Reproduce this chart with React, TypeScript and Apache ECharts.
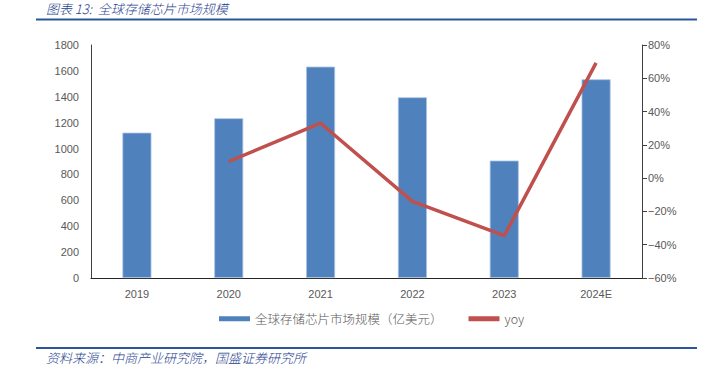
import React, { useEffect, useRef } from "react";
import * as echarts from "echarts";

const categories = ["2019", "2020", "2021", "2022", "2023", "2024E"];
const marketSize = [1123, 1234, 1633, 1396, 907, 1535];
const yoy = [null, 10.0, 33.0, -14.0, -34.6, 69.3];
const barName = "全球存储芯片市场规模（亿美元）";
const lineName = "yoy";
const titleText = "图表 13:  全球存储芯片市场规模";
const sourceText = "资料来源：中商产业研究院，国盛证券研究所";

export default function App() {
  const ref = useRef<HTMLDivElement>(null);
  useEffect(() => {
    if (!ref.current) return;
    const chart = echarts.init(ref.current, null, { renderer: "svg" });
    const axisFont = { color: "#595959", fontSize: 11, fontFamily: "Liberation Sans, Arial, sans-serif" };
    chart.setOption({
      animation: false,
      backgroundColor: "#ffffff",
      grid: { left: 91, right: 71, top: 45, bottom: 98, containLabel: false },
      legend: {
        bottom: 46,
        left: 214,
        itemGap: 26,
        itemWidth: 31,
        itemHeight: 5,
        textStyle: { color: "#595959", fontSize: 12.5, fontFamily: "Noto Sans CJK SC", fontWeight: 300 },
        data: [
          { name: barName, icon: "rect", itemStyle: { color: "#4F81BD", borderWidth: 0 } },
          { name: lineName, icon: "rect", itemStyle: { color: "#C0504D", borderWidth: 0 } },
        ],
      },
      xAxis: {
        type: "category",
        data: categories,
        axisLine: { show: true, lineStyle: { color: "#262626", width: 1 } },
        axisTick: { show: false },
        axisLabel: { ...axisFont, margin: 10 },
      },
      yAxis: [
        {
          type: "value",
          min: 0,
          max: 1800,
          interval: 200,
          splitLine: { show: false },
          axisLine: { show: true, lineStyle: { color: "#404040", width: 1 } },
          axisTick: { show: false },
          axisLabel: { ...axisFont, margin: 12, formatter: (v: number) => String(v) },
        },
        {
          type: "value",
          min: -60,
          max: 80,
          interval: 20,
          splitLine: { show: false },
          axisLine: { show: true, lineStyle: { color: "#404040", width: 1 } },
          axisTick: { show: true, inside: false, length: 5, lineStyle: { color: "#404040" } },
          axisLabel: { ...axisFont, margin: 6, formatter: (v: number) => (v < 0 ? "\u2212" + Math.abs(v) : v) + "%" },
        },
      ],
      series: [
        {
          name: barName,
          type: "bar",
          data: marketSize,
          barWidth: 29,
          yAxisIndex: 0,
          itemStyle: { color: "#4F81BD", borderColor: "#A9C1E3", borderWidth: 0.8 },
        },
        {
          name: lineName,
          type: "line",
          data: yoy,
          yAxisIndex: 1,
          symbol: "none",
          lineStyle: { color: "#C0504D", width: 3.5 },
          itemStyle: { color: "#C0504D" },
        },
      ],
      graphic: [
        {
          type: "text",
          x: 46,
          y: 8,
          style: {
            text: titleText,
            fill: "#1F3F8F",
            font: "italic 300 13px 'Noto Sans CJK SC'",
            textVerticalAlign: "middle",
            verticalAlign: "middle",
          },
        },
        {
          type: "line",
          shape: { x1: 36, y1: 19.5, x2: 697, y2: 19.5 },
          style: { stroke: "#2B579A", lineWidth: 2 },
        },
        {
          type: "line",
          shape: { x1: 36, y1: 348, x2: 697, y2: 348 },
          style: { stroke: "#2B579A", lineWidth: 2 },
        },
        {
          type: "text",
          x: 46,
          y: 357,
          style: {
            text: sourceText,
            fill: "#1F3F8F",
            font: "italic 300 13px 'Noto Sans CJK SC'",
            textVerticalAlign: "middle",
            verticalAlign: "middle",
          },
        },
      ],
    });
    return () => chart.dispose();
  }, []);
  return <div ref={ref} style={{ width: 713, height: 376, position: "absolute", left: 0, top: 0 }} />;
}
